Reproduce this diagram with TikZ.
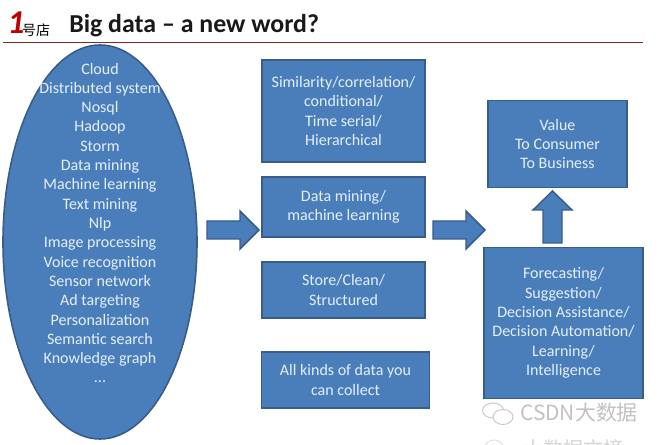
\documentclass[tikz,border=0pt]{standalone}
\usepackage{fontspec}
\usetikzlibrary{shapes.geometric}
\setmainfont{Carlito}
\newfontfamily\cjk{Noto Sans CJK SC}
\definecolor{bfill}{HTML}{4A7EBB}
\definecolor{bline}{HTML}{385D8A}
\definecolor{btext}{HTML}{E4EFF8}
\tikzset{
  x=0.75pt,y=-0.75pt,
  bluebox/.style={draw=bline,line width=1.2pt,fill=bfill,text=btext,align=center,inner sep=0pt,
    font=\fontsize{12pt}{14.48pt}\selectfont},
  blockarrow/.style={draw=bline,line width=1.1pt,fill=bfill,line join=miter},
}
\begin{document}
\begin{tikzpicture}
\useasboundingbox (0,0) rectangle (658,445);
\fill[white] (0,0) rectangle (658,445);
% header
\node[text=red!75!black,font=\fontsize{25pt}{25pt}\selectfont\bfseries\itshape,inner sep=0pt] (one) at (16,23) {1};
\node[font=\cjk\fontsize{10.5pt}{10.5pt}\selectfont,inner sep=0pt] (shop) at (36,30) {号店};
\node[anchor=west,font=\fontsize{19.4pt}{20pt}\selectfont\bfseries,text=black!90,inner sep=0pt] (title) at (69,26) {Big data – a new word?};
\coordinate (hl) at (3,42.5);
\coordinate (hr) at (643,42.5);
\draw[draw=red!45!black!85,line width=0.9pt] (hl) -- (hr);
% ellipse
\node[ellipse,draw=bline,line width=1.2pt,fill=bfill,minimum width=145.5pt,minimum height=295.5pt,inner sep=0pt] (oval) at (100,242) {};
\node[text=btext,align=center,inner sep=0pt,font=\fontsize{12pt}{14.48pt}\selectfont] (ovaltext) at (100,223) {Cloud\\Distributed system\\Nosql\\Hadoop\\Storm\\Data mining\\Machine learning\\Text mining\\Nlp\\Image processing\\Voice recognition\\Sensor network\\Ad targeting\\Personalization\\Semantic search\\Knowledge graph\\...};
% boxes
\node[bluebox,minimum width=122pt,minimum height=76.5pt] (b1) at (343.5,111) {Similarity/correlation/\\conditional/\\Time serial/\\Hierarchical};
\node[bluebox,minimum width=122pt,minimum height=45pt] (b2) at (343.5,207) {Data mining/\\machine learning};
\node[bluebox,minimum width=122pt,minimum height=42pt] (b3) at (343.5,290) {Store/Clean/\\Structured};
\node[bluebox,minimum width=126pt,minimum height=42pt] (b4) at (345.5,380) {All kinds of data you\\can collect};
\node[bluebox,minimum width=104pt,minimum height=65pt] (b5) at (557.5,144) {Value\\To Consumer\\To Business};
\node[bluebox,minimum width=119pt,minimum height=113pt] (b6) at (563.5,323) {Forecasting/\\Suggestion/\\Decision Assistance/\\Decision Automation/\\Learning/\\Intelligence};
% block arrows
\draw[blockarrow] (207,221) -- (240,221) -- (240,211) -- (259,230) -- (240,249) -- (240,239) -- (207,239) -- cycle;
\draw[blockarrow] (433,221) -- (466,221) -- (466,211) -- (485,230) -- (466,249) -- (466,239) -- (433,239) -- cycle;
\draw[blockarrow] (543,243) -- (543,210) -- (533,210) -- (552.5,191) -- (572,210) -- (562,210) -- (562,243) -- cycle;
% watermark
\begin{scope}
\clip (0,0) rectangle (658,445);
\draw[black!22,line width=0.7pt,fill=white] (493,410.5) ellipse (10.5 and 7.5);
\draw[black!22,line width=0.7pt,fill=white] (503,417) ellipse (10 and 7.5);
\draw[black!12,line width=0.7pt,fill=white] (494,447) ellipse (9 and 7);
\node[anchor=west,text=black!24,inner sep=0pt,font=\cjk\fontsize{15.7pt}{16pt}\selectfont] (wm) at (520,413) {CSDN大数据};
\node[anchor=west,text=black!16,inner sep=0pt,font=\cjk\fontsize{15pt}{15pt}\selectfont] (wm2) at (523,449) {大数据文摘};
\end{scope}
\end{tikzpicture}
\end{document}
